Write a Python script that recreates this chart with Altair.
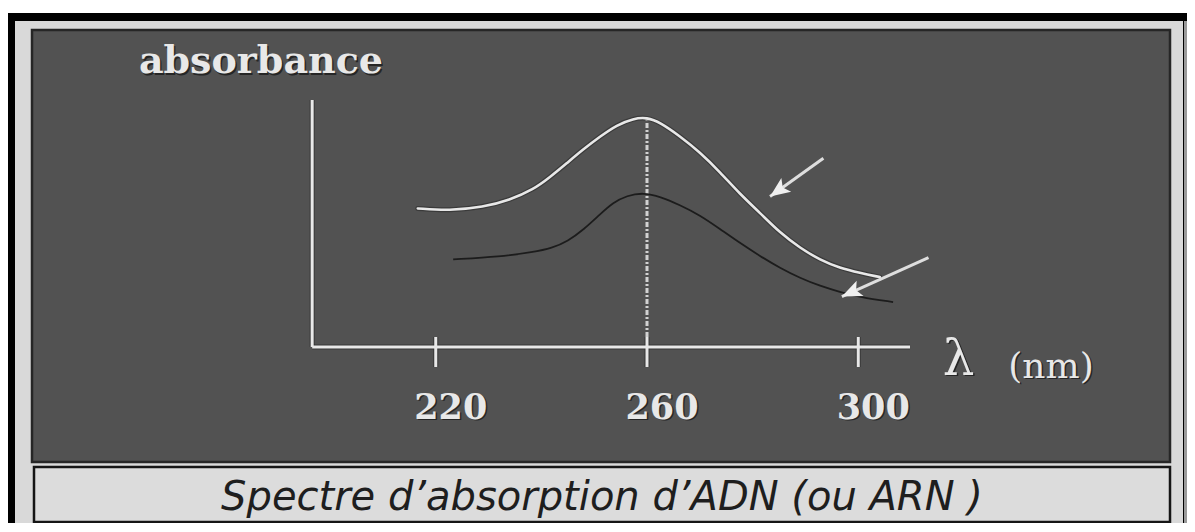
import altair as alt
import pandas as pd

# ---------------- data ----------------
upper_nm = [216.6, 222.6, 229.0, 234.0, 238.5, 241.6, 244.8, 247.9, 251.1, 254.3, 257.4, 260.0,
            262.5, 266.2, 270.0, 273.8, 277.6, 281.4, 285.2, 289.0, 292.8, 296.5, 300.3, 304.1]
upper_abs = [0.561, 0.552, 0.566, 0.595, 0.638, 0.687, 0.744, 0.800, 0.852, 0.899, 0.925, 0.930,
             0.909, 0.854, 0.789, 0.709, 0.619, 0.543, 0.462, 0.401, 0.352, 0.320, 0.300, 0.283]

lower_nm = [223.3, 232.2, 238.5, 242.0, 245.0, 248.0, 251.1, 253.6, 256.2, 259.3, 262.5,
            266.2, 270.0, 273.8, 277.6, 281.4, 285.2, 289.0, 292.8, 296.5, 300.3, 306.6]
lower_abs = [0.355, 0.366, 0.384, 0.400, 0.428, 0.475, 0.537, 0.585, 0.613, 0.625, 0.609,
             0.575, 0.534, 0.478, 0.421, 0.368, 0.320, 0.279, 0.247, 0.223, 0.202, 0.182]

tick_nm = [220, 260, 300]
tick_text = ["220", "260", "300"]
peak_nm = [260]
peak_abs = [0.927]
axis_nm = [196.6, 309.8]      # drawn extent of the wavelength axis
axis_abs = [0.0, 1.0]         # drawn extent of the absorbance axis
arrow_from_nm = [293.4, 313.3]
arrow_from_abs = [0.764, 0.362]
arrow_to_nm = [283.3, 296.9]
arrow_to_abs = [0.609, 0.204]
y_title = "absorbance"
x_symbol = "λ"
x_unit = "(nm)"
caption = "Spectre d’absorption d’ADN (ou ARN )"

# title / label anchor points (data units)
y_title_pos = (186.9, 1.109)
x_symbol_pos = (319.0, -0.113)
x_unit_pos = (336.5, -0.1255)
tick_label_abs = -0.2915

# ---------------- style / layout ----------------
W, H = 1138, 432
X_DOMAIN = [143.55, 359.03]
Y_DOMAIN = [-0.4656, 1.2834]
PANEL = "#525252"
LIGHT = "#e8e8e8"
SHADOW = "#262626"
ARROW_ANGLES = [234.2, 245.8]
HEAD = "M0,0L0.42,1L0,0.78L-0.42,1Z"

xs = alt.Scale(domain=X_DOMAIN, nice=False, zero=False)
ys = alt.Scale(domain=Y_DOMAIN, nice=False, zero=False)


def X(f):
    return alt.X(f, type="quantitative", scale=xs, axis=None)


def Y(f):
    return alt.Y(f, type="quantitative", scale=ys, axis=None)


one = pd.DataFrame({"k": [0]})


def box(x, x2, y, y2, **kw):
    return alt.Chart(one).mark_rect(**kw).encode(
        x=alt.value(x), x2=alt.value(x2), y=alt.value(y), y2=alt.value(y2))


# frame decorations
black = box(-30, 1170, -17, 520, color="#000000")
light = box(-17, 1151, -9, 520, color="#d9d9d9")
strip = box(1152, 1170, -9, 520, color="#9a9a9a")
panel = box(0, W, 0, H, fill=PANEL, stroke=SHADOW, strokeWidth=2.5)
cap_box = box(2, W, 437, 492, fill="#dcdcdc", stroke="#151515", strokeWidth=2.5)
cap_text = alt.Chart(one).mark_text(
    text=caption, font="DejaVu Sans", fontStyle="italic", fontSize=40,
    color="#1e1e1e", align="center", baseline="alphabetic"
).encode(x=alt.value(570), y=alt.value(480))

# axes
axis_df = pd.DataFrame({
    "x": [axis_nm[0], axis_nm[0]], "x2": [axis_nm[1], axis_nm[0]],
    "y": [axis_abs[0], axis_abs[0]], "y2": [axis_abs[0], axis_abs[1]]})
axis_base = alt.Chart(axis_df).encode(x=X("x"), x2=alt.X2("x2"), y=Y("y"), y2=alt.Y2("y2"))
axis_sh = axis_base.mark_rule(color=SHADOW, strokeWidth=5, opacity=0.6)
axis_ln = axis_base.mark_rule(color=LIGHT, strokeWidth=3)

tick_df = pd.DataFrame({"x": tick_nm, "base": [0] * len(tick_nm), "label": tick_text,
                        "ly": [tick_label_abs] * len(tick_nm)})
tick_base = alt.Chart(tick_df).encode(x=X("x"), y=Y("base"), y2=alt.Y2("base"))
ticks_sh = tick_base.mark_rule(color=SHADOW, strokeWidth=5, opacity=0.6, yOffset=-10, y2Offset=20)
ticks = tick_base.mark_rule(color=LIGHT, strokeWidth=3, yOffset=-10, y2Offset=20)

tick_lab_sh = alt.Chart(tick_df).mark_text(
    font="DejaVu Serif", fontWeight="bold", fontSize=35, color=SHADOW,
    align="center", baseline="alphabetic", dx=16.5, dy=1.5
).encode(x=X("x"), y=Y("ly"), text="label:N")
tick_lab = alt.Chart(tick_df).mark_text(
    font="DejaVu Serif", fontWeight="bold", fontSize=35, color=LIGHT,
    align="center", baseline="alphabetic", dx=15
).encode(x=X("x"), y=Y("ly"), text="label:N")

# dash-dot line at the maximum
peak_df = pd.DataFrame({"x": peak_nm, "y": [0.0], "y2": peak_abs})
peak_line = alt.Chart(peak_df).mark_rule(
    color="#d2d2d2", strokeWidth=3, strokeDash=[5, 2, 2, 2], yOffset=-10
).encode(x=X("x"), y=Y("y"), y2=alt.Y2("y2"))

# spectra
up_df = pd.DataFrame({"nm": upper_nm, "A": upper_abs})
lo_df = pd.DataFrame({"nm": lower_nm, "A": lower_abs})
up_sh = alt.Chart(up_df).mark_line(
    color=SHADOW, strokeWidth=5, interpolate="basis", opacity=0.55, strokeCap="round"
).encode(x=X("nm"), y=Y("A"))
up_ln = alt.Chart(up_df).mark_line(
    color=LIGHT, strokeWidth=2.6, interpolate="basis", strokeCap="round"
).encode(x=X("nm"), y=Y("A"))
lo_ln = alt.Chart(lo_df).mark_line(
    color="#1c1c1c", strokeWidth=1.8, interpolate="basis"
).encode(x=X("nm"), y=Y("A"))

# arrows
arr_df = pd.DataFrame({"x": arrow_from_nm, "y": arrow_from_abs,
                       "x2": arrow_to_nm, "y2": arrow_to_abs, "ang": ARROW_ANGLES})
arr_line = alt.Chart(arr_df).mark_rule(color="#dedede", strokeWidth=3).encode(
    x=X("x"), y=Y("y"), x2=alt.X2("x2"), y2=alt.Y2("y2"))
arr_head = alt.Chart(arr_df).mark_point(
    shape=HEAD, size=1600, filled=True, color="#efefef", opacity=1
).encode(x=X("x2"), y=Y("y2"), angle=alt.Angle("ang:Q", scale=None))


# titles
def label(text, pos, size, weight="normal", align="center"):
    d = pd.DataFrame({"x": [pos[0]], "y": [pos[1]], "t": [text]})
    sh = alt.Chart(d).mark_text(font="DejaVu Serif", fontWeight=weight, fontSize=size,
                                color=SHADOW, align=align, baseline="alphabetic",
                                dx=1.5, dy=1.5).encode(x=X("x"), y=Y("y"), text="t:N")
    fg = alt.Chart(d).mark_text(font="DejaVu Serif", fontWeight=weight, fontSize=size,
                                color=LIGHT, align=align, baseline="alphabetic"
                                ).encode(x=X("x"), y=Y("y"), text="t:N")
    return [sh, fg]


titles = (label(y_title, y_title_pos, 38, "bold")
          + label(x_symbol, x_symbol_pos, 50)
          + label(x_unit, x_unit_pos, 36))

chart = alt.layer(
    black, light, strip, panel, cap_box, cap_text,
    axis_sh, ticks_sh, axis_ln, ticks, peak_line,
    up_sh, up_ln, lo_ln, arr_line, arr_head,
    tick_lab_sh, tick_lab, *titles
).properties(
    width=W, height=H,
    autosize=alt.AutoSizeParams(type="none"),
    padding={"left": 24, "top": 22, "right": 17, "bottom": 61},
    background="white",
).configure_view(stroke=None)

chart.save("out.html", embed_options={"renderer": "svg", "actions": False})
